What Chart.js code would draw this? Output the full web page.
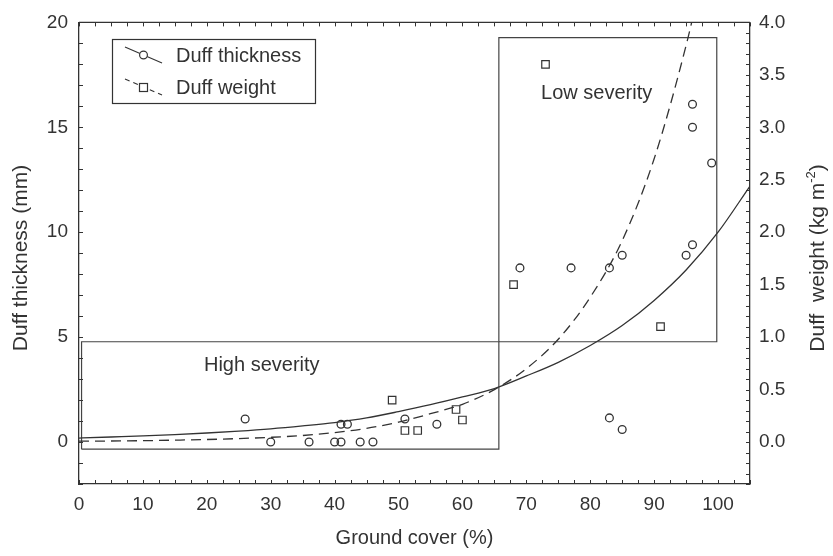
<!DOCTYPE html>
<html><head><meta charset="utf-8">
<script src="https://cdn.jsdelivr.net/npm/chart.js@4.4.1/dist/chart.umd.min.js"></script>
<style>html,body{margin:0;padding:0;background:#fff;} #wrap{width:833px;height:556px;position:relative;}</style>
</head><body><div id="wrap"><canvas id="c" width="833" height="556"></canvas></div>
<script>
// ---- data ----
const thicknessCover = [26, 30, 36, 40, 41, 41, 42, 44, 46, 51, 56, 69, 77, 83, 85, 95, 96, 96, 96, 99, 83, 85];
const thicknessMm    = [1.1, 0, 0, 0, 0, 0.85, 0.85, 0, 0, 1.1, 0.85, 8.3, 8.3, 8.3, 8.9, 8.9, 9.4, 16.1, 15.0, 13.3, 1.15, 0.6];
const weightCover    = [49, 51, 53, 59, 60, 68, 73, 91];
const weightKg       = [0.40, 0.11, 0.11, 0.31, 0.21, 1.50, 3.60, 1.10];
const thicknessFitCover = [0, 5, 10, 15, 20, 25, 30, 35, 40, 45, 50, 55, 60, 65, 70, 75, 80, 85, 90, 95, 100, 105];
const thicknessFitMm    = [0.19, 0.24, 0.29, 0.35, 0.43, 0.52, 0.63, 0.77, 0.93, 1.15, 1.45, 1.78, 2.15, 2.55, 3.15, 3.8, 4.6, 5.55, 6.75, 8.2, 10.0, 12.2];
const weightFitCover = [0, 5, 10, 15, 20, 25, 30, 35, 40, 45, 50, 55, 60, 65, 70, 75, 80, 85, 90, 95, 97];
const weightFitKg    = [0.008, 0.010, 0.013, 0.018, 0.024, 0.033, 0.045, 0.062, 0.090, 0.13, 0.19, 0.27, 0.36, 0.50, 0.70, 0.98, 1.38, 1.92, 2.7, 3.78, 4.3];
const highBoxCover = [0.4, 65.7, 65.7, 0.4, 0.4];
const highBoxMm    = [-0.34, -0.34, 4.78, 4.78, -0.34];
const lowBoxCover  = [65.7, 99.8, 99.8, 65.7, 65.7];
const lowBoxMm     = [4.78, 4.78, 19.27, 19.27, 4.78];
const xTickLabels     = [0, 10, 20, 30, 40, 50, 60, 70, 80, 90, 100];
const leftTickLabels  = [0, 5, 10, 15, 20];
const rightTickLabels = [0, 0.5, 1.0, 1.5, 2.0, 2.5, 3.0, 3.5, 4.0];
const seriesNames = ['Duff thickness', 'Duff weight'];
const regionNames = ['High severity', 'Low severity'];
const xTitle = 'Ground cover (%)';
const leftTitle = 'Duff thickness (mm)';
const rightTitle = 'Duff  weight (kg m';
const rightTitleSup = '-2';

// ---- styling ----
const INK = '#333333';
const FONT = "'Liberation Sans', Arial, sans-serif";
const pts = (xs, ys) => xs.map((v, i) => ({x: v, y: ys[i]}));

const decor = {
  id: 'decor',
  afterDraw(chart) {
    const {ctx, chartArea: a, scales: {x, y, y2}} = chart;
    ctx.save();
    ctx.strokeStyle = INK;
    ctx.lineWidth = 1.3;
    ctx.beginPath(); ctx.moveTo(a.left, a.top); ctx.lineTo(a.right, a.top); ctx.stroke();
    // inward minor/major ticks
    ctx.lineWidth = 1;
    ctx.beginPath();
    for (let i = 0; i <= 42; i++) {
      const px = Math.round(x.getPixelForValue(i * 2.5)) + 0.5;
      ctx.moveTo(px, a.bottom); ctx.lineTo(px, a.bottom - 4);
      ctx.moveTo(px, a.top); ctx.lineTo(px, a.top + 4);
    }
    for (let v = -2; v <= 20; v++) {
      const py = Math.round(y.getPixelForValue(v)) + 0.5;
      ctx.moveTo(a.left, py); ctx.lineTo(a.left + 4, py);
    }
    for (let i = -4; i <= 40; i++) {
      const py = Math.round(y2.getPixelForValue(i / 10)) + 0.5;
      ctx.moveTo(a.right, py); ctx.lineTo(a.right - 4, py);
    }
    ctx.stroke();

    ctx.fillStyle = INK;
    ctx.font = '20px ' + FONT;
    ctx.textAlign = 'center';
    ctx.textBaseline = 'middle';
    ctx.fillText(regionNames[0], x.getPixelForValue(28.6), y.getPixelForValue(3.67));
    ctx.fillText(regionNames[1], x.getPixelForValue(81.0), y.getPixelForValue(16.6));

    // legend
    ctx.lineWidth = 1.2;
    ctx.strokeRect(112.5, 39.5, 203, 64);
    // entry 1: solid line + circle
    ctx.beginPath(); ctx.moveTo(125, 47); ctx.lineTo(162, 63); ctx.stroke();
    ctx.beginPath(); ctx.arc(143.5, 55, 3.9, 0, Math.PI * 2); ctx.fillStyle = '#fff'; ctx.fill(); ctx.stroke();
    // entry 2: dashed line + square
    ctx.setLineDash([5, 4]);
    ctx.beginPath(); ctx.moveTo(125, 79); ctx.lineTo(162, 95); ctx.stroke();
    ctx.setLineDash([]);
    ctx.fillStyle = '#fff';
    ctx.fillRect(139.5, 83.5, 8, 8); ctx.strokeRect(139.5, 83.5, 8, 8);
    ctx.fillStyle = INK;
    ctx.textAlign = 'left';
    ctx.fillText(seriesNames[0], 176, 56);
    ctx.fillText(seriesNames[1], 176, 88);

    // vertical titles
    ctx.font = '21px ' + FONT;
    ctx.save();
    ctx.translate(21, 258); ctx.rotate(-Math.PI / 2);
    ctx.textAlign = 'center';
    ctx.fillText(leftTitle, 0, 0);
    ctx.restore();

    ctx.save();
    ctx.translate(818, 258); ctx.rotate(-Math.PI / 2);
    ctx.textAlign = 'left';
    const supFont = '13px ' + FONT;
    const w1 = ctx.measureText(rightTitle).width;
    ctx.font = supFont; const w2 = ctx.measureText(rightTitleSup).width;
    ctx.font = '21px ' + FONT; const w3 = ctx.measureText(')').width;
    const start = -(w1 + w2 + w3) / 2;
    ctx.fillText(rightTitle, start, 0);
    ctx.font = supFont; ctx.fillText(rightTitleSup, start + w1, -7);
    ctx.font = '21px ' + FONT; ctx.fillText(')', start + w1 + w2, 0);
    ctx.restore();
    ctx.restore();
  }
};

const tickFont = {family: FONT, size: 19};
new Chart(document.getElementById('c'), {
  type: 'scatter',
  data: {
    datasets: [
      {label: seriesNames[0], data: pts(thicknessCover, thicknessMm), yAxisID: 'y',
       pointStyle: 'circle', pointRadius: 3.9, pointBorderWidth: 1.3, borderColor: INK, backgroundColor: 'rgba(0,0,0,0)'},
      {label: seriesNames[1], data: pts(weightCover, weightKg), yAxisID: 'y2',
       pointStyle: 'rect', pointRadius: 5.3, pointBorderWidth: 1.2, borderColor: INK, backgroundColor: 'rgba(0,0,0,0)'},
      {label: seriesNames[0] + ' fit', data: pts(thicknessFitCover, thicknessFitMm), yAxisID: 'y', showLine: true,
       pointRadius: 0, borderColor: INK, borderWidth: 1.3, cubicInterpolationMode: 'monotone'},
      {label: seriesNames[1] + ' fit', data: pts(weightFitCover, weightFitKg), yAxisID: 'y2', showLine: true,
       pointRadius: 0, borderColor: INK, borderWidth: 1.3, borderDash: [10, 6], cubicInterpolationMode: 'monotone'},
      {label: regionNames[0], data: pts(highBoxCover, highBoxMm), yAxisID: 'y', showLine: true,
       pointRadius: 0, borderColor: '#444444', borderWidth: 1.2, tension: 0},
      {label: regionNames[1], data: pts(lowBoxCover, lowBoxMm), yAxisID: 'y', showLine: true,
       pointRadius: 0, borderColor: '#444444', borderWidth: 1.2, tension: 0}
    ]
  },
  options: {
    responsive: false,
    animation: false,
    devicePixelRatio: 1,
    layout: {padding: {top: 17, left: 0, right: 0, bottom: 0}},
    plugins: {legend: {display: false}, tooltip: {enabled: false}},
    scales: {
      x: {
        type: 'linear', position: 'bottom', min: 0, max: 105,
        afterBuildTicks: s => { s.ticks = xTickLabels.map(v => ({value: v})); },
        afterFit: s => { s.height = 72; },
        ticks: {font: tickFont, color: INK, padding: 9, callback: v => String(v), maxRotation: 0, autoSkip: false},
        grid: {display: true, drawOnChartArea: false, drawTicks: false},
        border: {display: true, color: INK, width: 1.3},
        title: {display: true, text: xTitle, font: {family: FONT, size: 20}, color: INK, padding: {top: 0, bottom: 6}}
      },
      y: {
        type: 'linear', position: 'left', min: -2, max: 20,
        afterBuildTicks: s => { s.ticks = leftTickLabels.map(v => ({value: v})); },
        afterFit: s => { s.width = 79; },
        ticks: {font: tickFont, color: INK, padding: 11, callback: v => String(v), autoSkip: false},
        grid: {display: true, drawOnChartArea: false, drawTicks: false},
        border: {display: true, color: INK, width: 1.3}
      },
      y2: {
        type: 'linear', position: 'right', min: -0.4, max: 4.0,
        afterBuildTicks: s => { s.ticks = rightTickLabels.map(v => ({value: v})); },
        afterFit: s => { s.width = 83; },
        ticks: {font: tickFont, color: INK, padding: 9, callback: v => Number(v).toFixed(1), autoSkip: false},
        grid: {display: true, drawOnChartArea: false, drawTicks: false},
        border: {display: true, color: INK, width: 1.3}
      }
    }
  },
  plugins: [decor]
});
</script>
</body></html>
